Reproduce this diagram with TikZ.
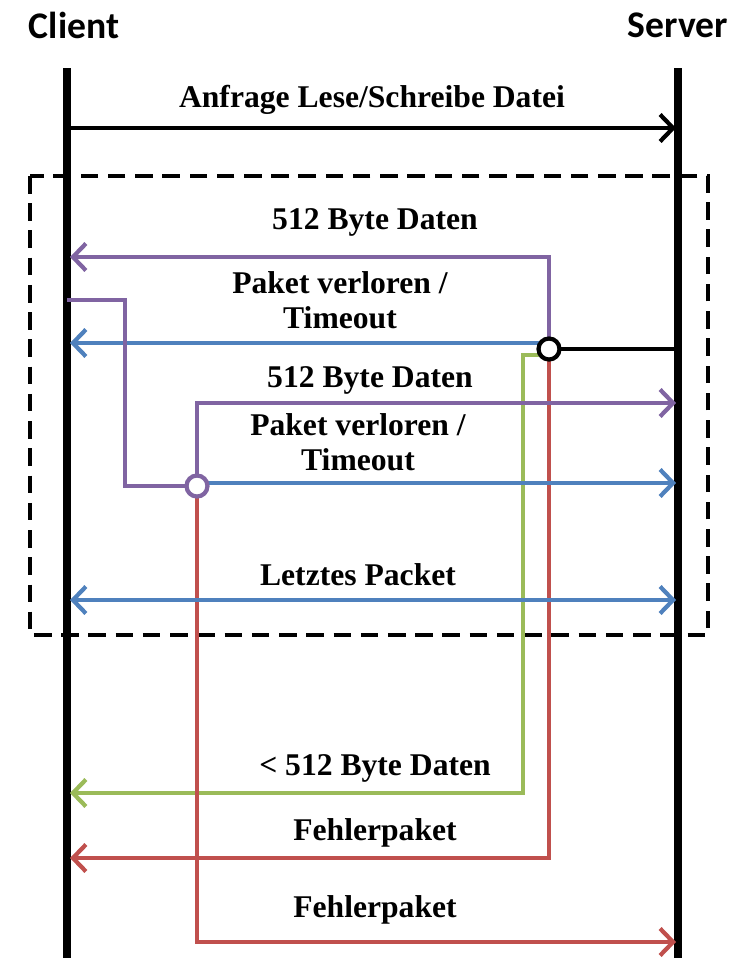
\documentclass[tikz,border=0pt]{standalone}
\usepackage{fontspec}
\setmainfont{Liberation Serif}
\newfontfamily\headfont{Carlito}
\usetikzlibrary{arrows.meta}
\tikzset{>={Straight Barb[length=2.6mm,width=5.4mm]}}
\definecolor{tfpurple}{RGB}{128,100,162}
\definecolor{tfblue}{RGB}{79,129,189}
\definecolor{tfred}{RGB}{192,80,77}
\definecolor{tfgreen}{RGB}{155,187,89}

\begin{document}
\begin{tikzpicture}[x=0.02cm,y=-0.02cm,
    life/.style={line width=4pt},
    msg/.style={line width=2.4pt},
    lbl/.style={font=\bfseries\fontsize{18}{20}\selectfont,align=center},
    head/.style={font=\headfont\bfseries\fontsize{21.4}{24}\selectfont},
    knot/.style={circle,draw,line width=2.4pt,fill=white,minimum size=0.42cm,inner sep=0pt}]
            \useasboundingbox (0,0) rectangle (732,958);
            % Lebenslinien
            \node[head] (client) at (74,25) {Client};
            \node[head] (server) at (678,25) {Server};
            \draw[life] (67,68) -- (67,958);
            \draw[life] (678,68) -- (678,958);
            % Anfrage
            \coordinate (ca) at (70,128);
            \coordinate (sa) at (676,128);
            \draw[msg,->] (ca) -- (sa);
            \node[lbl] (anfrage) at (372,100) {Anfrage Lese/Schreibe Datei};
            % Bereich der Wiederholung
            \draw[line width=2.3pt,dash pattern=on 10pt off 5.5pt] (30,176) rectangle (708,635);
            % Knoten am Server
            \coordinate (j1) at (549,349);
            \coordinate (cp1) at (70,257);
            \coordinate (cb1) at (70,343);
            \coordinate (cg1) at (70,793);
            \coordinate (cr1) at (70,858);
            \coordinate (sv1) at (678,349);
            \draw[msg,tfpurple,->] (j1) |- (cp1);
            \draw[msg,tfblue,->] (j1) ++(0,-6) -- (cb1);
            \draw[msg,tfgreen,->] (j1) ++(0,6) -| (523,793) -- (cg1);
            \draw[msg,tfred,->] (j1) |- (cr1);
            \draw[msg] (j1) -- (sv1);
            \node[knot] (k1) at (j1) {};
            % Knoten am Client
            \coordinate (j2) at (197,486);
            \coordinate (cp2) at (67,300);
            \coordinate (sp2) at (676,403);
            \coordinate (sb2) at (676,483);
            \coordinate (sr2) at (676,942);
            \draw[msg,tfpurple] (cp2) -| (125,486) -- (j2);
            \draw[msg,tfpurple,->] (j2) |- (sp2);
            \draw[msg,tfblue,->] (j2) ++(0,-3) -- (sb2);
            \draw[msg,tfred,->] (j2) |- (sr2);
            \node[knot,draw=tfpurple] (k2) at (j2) {};
            % letztes Paket
            \coordinate (cl) at (70,600);
            \coordinate (sl) at (676,600);
            \draw[msg,tfblue,<->] (cl) -- (sl);
            % Beschriftungen
            \node[lbl] (daten1) at (375,222) {512 Byte Daten};
            \node[lbl] (timeout1) at (340,300) {Paket verloren /\\Timeout};
            \node[lbl] (daten2) at (370,380) {512 Byte Daten};
            \node[lbl] (timeout2) at (358,442) {Paket verloren /\\Timeout};
            \node[lbl] (letztes) at (358,575) {Letztes Packet};
            \node[lbl] (rest) at (375,768) {< 512 Byte Daten};
            \node[lbl] (fehler1) at (375,833) {Fehlerpaket};
            \node[lbl] (fehler2) at (375,910) {Fehlerpaket};
        \end{tikzpicture}
\end{document}
